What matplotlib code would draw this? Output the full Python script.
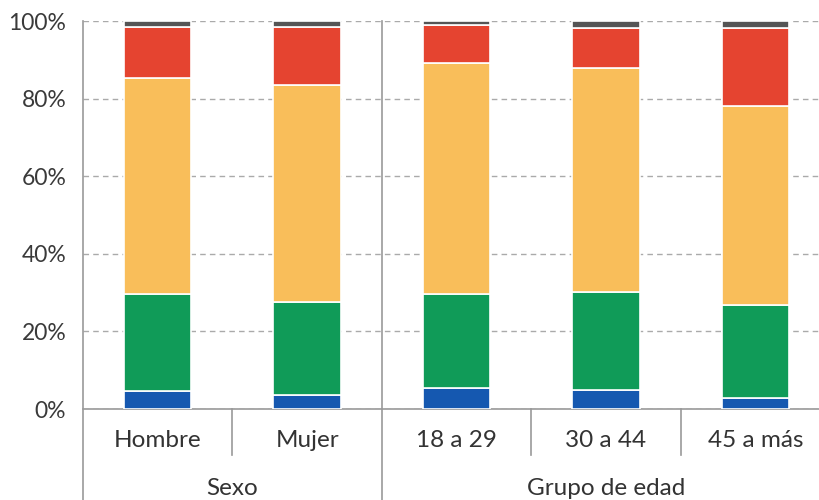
import numpy as np
import matplotlib.pyplot as plt
from matplotlib.ticker import FuncFormatter

plt.rcParams['font.family'] = ['Lato', 'DejaVu Sans']

categories = ['Hombre', 'Mujer', '18 a 29', '30 a 44', '45 a más']
groups = ['Sexo', 'Grupo de edad']
group_sizes = [2, 3]

blue = [4.6, 3.6, 5.3, 4.9, 2.8]
green = [25.0, 24.0, 24.3, 25.3, 24.0]
yellow = [55.6, 55.9, 59.7, 57.8, 51.3]
red = [13.2, 15.0, 9.7, 10.1, 20.1]
gray = [1.6, 1.5, 1.0, 1.9, 1.8]

series = [blue, green, yellow, red, gray]
colors = ['#1558b0', '#109b58', '#f9be5a', '#e54430', '#555555']

fig = plt.figure(figsize=(8.2, 5), dpi=100)
ax = fig.add_axes([83/820, 91/500, 747/820, 388/500])

x = np.arange(len(categories))
bottom = np.zeros(len(categories))
for vals, c in zip(series, colors):
    ax.bar(x, vals, width=0.45, bottom=bottom, color=c, edgecolor='white', linewidth=1.2, zorder=3)
    bottom += np.array(vals)

ax.set_xlim(-0.5, len(categories) - 0.5)
ax.set_ylim(0, 100)
ax.set_yticks([0, 20, 40, 60, 80, 100])
ax.yaxis.set_major_formatter(FuncFormatter(lambda v, p: '%d%%' % v))
ax.tick_params(axis='y', length=0, pad=12, labelsize=16.5, labelcolor='#3a3a3a')
ax.set_xticks([])
ax.grid(axis='y', color='#aaaaaa', linestyle=(0, (4, 3)), linewidth=1, zorder=0)

for s in ['top', 'right']:
    ax.spines[s].set_visible(False)
ax.spines['left'].set_visible(False)
ax.spines['bottom'].set_color('#999999')
ax.spines['bottom'].set_linewidth(1.2)

tr = ax.get_xaxis_transform()
lc = '#999999'
# left edge and group separators run full height to bottom
edges = [-0.5]
pos = -0.5
for n in group_sizes:
    pos += n
    edges.append(pos)
for e in edges[:-1]:
    ax.plot([e, e], [1, -0.235], transform=tr, color=lc, lw=1.2, clip_on=False, zorder=4)

# category separators in first label row
start = -0.5
for n in group_sizes:
    for k in range(1, n):
        ax.plot([start + k, start + k], [0, -0.119], transform=tr, color=lc, lw=1.2, clip_on=False)
    start += n

for xi, lab in zip(x, categories):
    ax.text(xi, -0.08, lab, transform=tr, ha='center', va='center', fontsize=17.5, color='#333333')

start = -0.5
for g, n in zip(groups, group_sizes):
    ax.text(start + n / 2, -0.205, g, transform=tr, ha='center', va='center', fontsize=17.5, color='#333333')
    start += n

fig.savefig('out.png', dpi=100)
